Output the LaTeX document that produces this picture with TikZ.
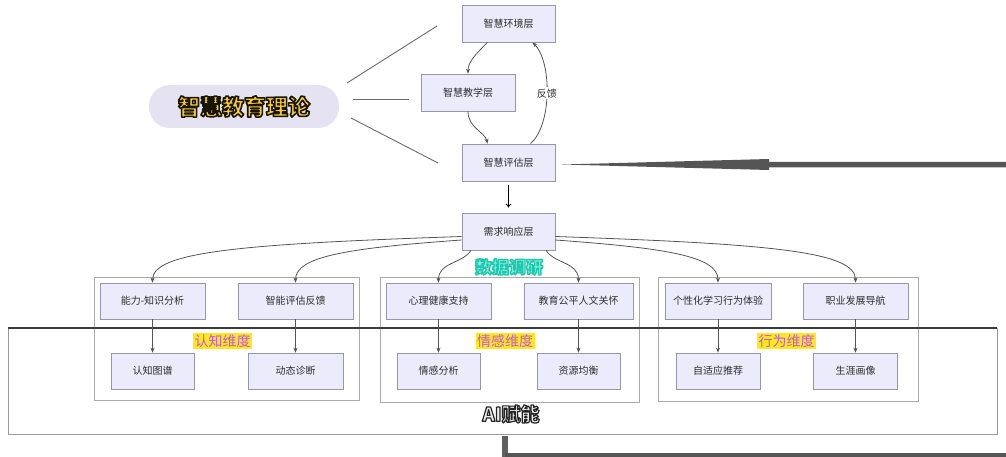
\documentclass[tikz,border=0pt]{standalone}
\usepackage{fontspec}
\setmainfont{Noto Sans CJK SC}
\usetikzlibrary{arrows.meta}
\definecolor{boxfill}{RGB}{236,235,252}
\definecolor{boxdraw}{RGB}{150,150,168}
\definecolor{grpdraw}{RGB}{170,170,170}
\definecolor{linec}{RGB}{85,85,85}
\definecolor{txt}{RGB}{45,45,45}
\definecolor{pillfill}{RGB}{229,227,242}
\definecolor{goldtxt}{RGB}{250,205,45}
\definecolor{dimyellow}{RGB}{255,232,30}
\definecolor{dimtext}{RGB}{195,85,230}
\definecolor{datamint}{RGB}{140,240,225}
\definecolor{darkline}{RGB}{60,60,60}
\definecolor{bigarrow}{RGB}{85,85,85}
\newcommand{\outlined}[3]{\special{pdf:literal direct #1 RG #2 w 1 j 2 Tr}#3\special{pdf:literal direct 0 Tr}}
\begin{document}
\begin{tikzpicture}[x=1pt,y=-1pt,
  box/.style={draw=boxdraw, fill=boxfill, line width=0.7pt, text=txt,
    font=\fontsize{10}{12}\selectfont, inner sep=0pt},
  grp/.style={draw=grpdraw, line width=0.8pt, inner sep=0pt},
  conn/.style={draw=linec, line width=0.8pt, -{Stealth[length=5pt,width=4pt]}},
  plain/.style={draw=gray!85!black, line width=0.9pt},
  dim/.style={fill=dimyellow, text=dimtext, font=\fontsize{14}{16}\selectfont, inner sep=1.5pt},
]
\useasboundingbox (0,0) rectangle (1006,457);
\fill[white] (0,0) rectangle (1006,457);

% group frames
\node[grp, minimum width=265pt, minimum height=123pt] (gA) at (226.5,338.5) {};
\node[grp, minimum width=259pt, minimum height=125pt] (gB) at (509.5,339.5) {};
\node[grp, minimum width=260pt, minimum height=124pt] (gC) at (788,339) {};

% AI frame
\draw[draw=gray!80, line width=0.8pt] (8,328) rectangle (997,434);
\draw[darkline, line width=1.3pt] (8,328) -- (997,328);

% pill
\node[fill=pillfill, rounded corners=21pt, minimum width=190pt, minimum height=43pt, inner sep=0pt] (pill) at (244,106.5)
  {\fontsize{22}{24}\selectfont\bfseries\color{goldtxt}\outlined{0.1 0.08 0}{1.6}{智慧教育理论}};

% three layers
\node[box, minimum width=93pt, minimum height=37pt] (env) at (508.5,23.5) {智慧环境层};
\node[box, minimum width=94pt, minimum height=37pt] (teach) at (468,92.5) {智慧教学层};
\node[box, minimum width=93pt, minimum height=37pt] (eval) at (508.5,162.5) {智慧评估层};
\node[box, minimum width=93pt, minimum height=37pt] (need) at (508.5,231.5) {需求响应层};

% top row
\node[box, minimum width=105pt, minimum height=36pt] (a1) at (152.5,301) {能力-知识分析};
\node[box, minimum width=115pt, minimum height=36pt] (a2) at (295.5,301) {智能评估反馈};
\node[box, minimum width=105pt, minimum height=36pt] (b1) at (438.5,301) {心理健康支持};
\node[box, minimum width=109pt, minimum height=36pt] (b2) at (578.5,301) {教育公平人文关怀};
\node[box, minimum width=106pt, minimum height=36pt] (c1) at (718,301) {个性化学习行为体验};
\node[box, minimum width=105pt, minimum height=36pt] (c2) at (855.5,301) {职业发展导航};

% bottom row
\node[box, minimum width=83pt, minimum height=36pt] (a3) at (152.5,371) {认知图谱};
\node[box, minimum width=95pt, minimum height=36pt] (a4) at (295.5,371) {动态诊断};
\node[box, minimum width=83pt, minimum height=36pt] (b3) at (438.5,371) {情感分析};
\node[box, minimum width=83pt, minimum height=36pt] (b4) at (578.5,371) {资源均衡};
\node[box, minimum width=84pt, minimum height=36pt] (c3) at (718,371) {自适应推荐};
\node[box, minimum width=84pt, minimum height=36pt] (c4) at (855.5,371) {生涯画像};

% dimension labels
\node[dim] (dA) at (222.5,341) {认知维度};
\node[dim] (dB) at (505,341) {情感维度};
\node[dim] (dC) at (786.5,341) {行为维度};

% data label
\node[font=\fontsize{17}{19}\selectfont\bfseries, text=datamint] (data) at (509,267)
  {\outlined{0.12 0.78 0.68}{1.4}{数据调研}};

% AI label
\node[font=\fontsize{19}{21}\selectfont\bfseries, text=white!93!black] (ai) at (511,414)
  {\outlined{0.15 0.15 0.15}{1.2}{AI赋能}};

% pill lines
\coordinate (p1s) at (347,83);  \coordinate (p1e) at (437,26);
\coordinate (p2s) at (353,99);  \coordinate (p2e) at (409,99);
\coordinate (p3s) at (351,118); \coordinate (p3e) at (438,163);
\draw[plain] (p1s) -- (p1e);
\draw[plain] (p2s) -- (p2e);
\draw[plain] (p3s) -- (p3e);

% loop arrows
\draw[conn] ([xshift=-21pt]env.south) .. controls (475,55) and (468,62) .. (teach.north);
\draw[conn] (teach.south) .. controls (468,128) and (485,132) .. ([xshift=-21pt]eval.north);
\draw[conn] ([xshift=22pt]eval.north) .. controls (552,125) and (552,62) .. ([xshift=24pt]env.south)
  node[pos=0.5, fill=white, text=txt, font=\fontsize{10}{12}\selectfont, inner sep=1.5pt] (fb) {反馈};

% eval -> need
\draw[black, line width=0.8pt, -{To[length=4pt,width=6pt]}, shorten <=4pt, shorten >=5pt] (eval.south) -- (need.north);

% need -> top row
\draw[conn] ([yshift=-5pt]need.west) .. controls (240,244) and (152.5,252) .. (a1.north);
\draw[conn] ([yshift=-8.5pt]need.west) .. controls (350,248) and (295.5,256) .. (a2.north);
\draw[conn] ([xshift=-37.5pt]need.south) .. controls (462,264) and (438.5,262) .. (b1.north);
\draw[conn] ([xshift=37.5pt]need.south) .. controls (555,264) and (578.5,262) .. (b2.north);
\draw[conn] ([yshift=-8.5pt]need.east) .. controls (665,248) and (718,256) .. (c1.north);
\draw[conn] ([yshift=-5pt]need.east) .. controls (775,244) and (855.5,252) .. (c2.north);

% top row -> bottom row
\draw[conn] (a1.south) -- (a3.north);
\draw[conn] (a2.south) -- (a4.north);
\draw[conn] (b1.south) -- (b3.north);
\draw[conn] (b2.south) -- (b4.north);
\draw[conn] (c1.south) -- (c3.north);
\draw[conn] (c2.south) -- (c4.north);

% big tapered arrow on the right
\fill[bigarrow] (562,164.5) -- (769,159) -- (769,161.8) -- (1006,161.8) -- (1006,167.5) -- (769,167.5) -- (769,170) -- cycle;

% bottom arrow and line
\fill[gray!75!black] (502,436) rectangle (508,457);
\fill[bigarrow] (505,452.5) rectangle (1006,457);
\end{tikzpicture}
\end{document}
